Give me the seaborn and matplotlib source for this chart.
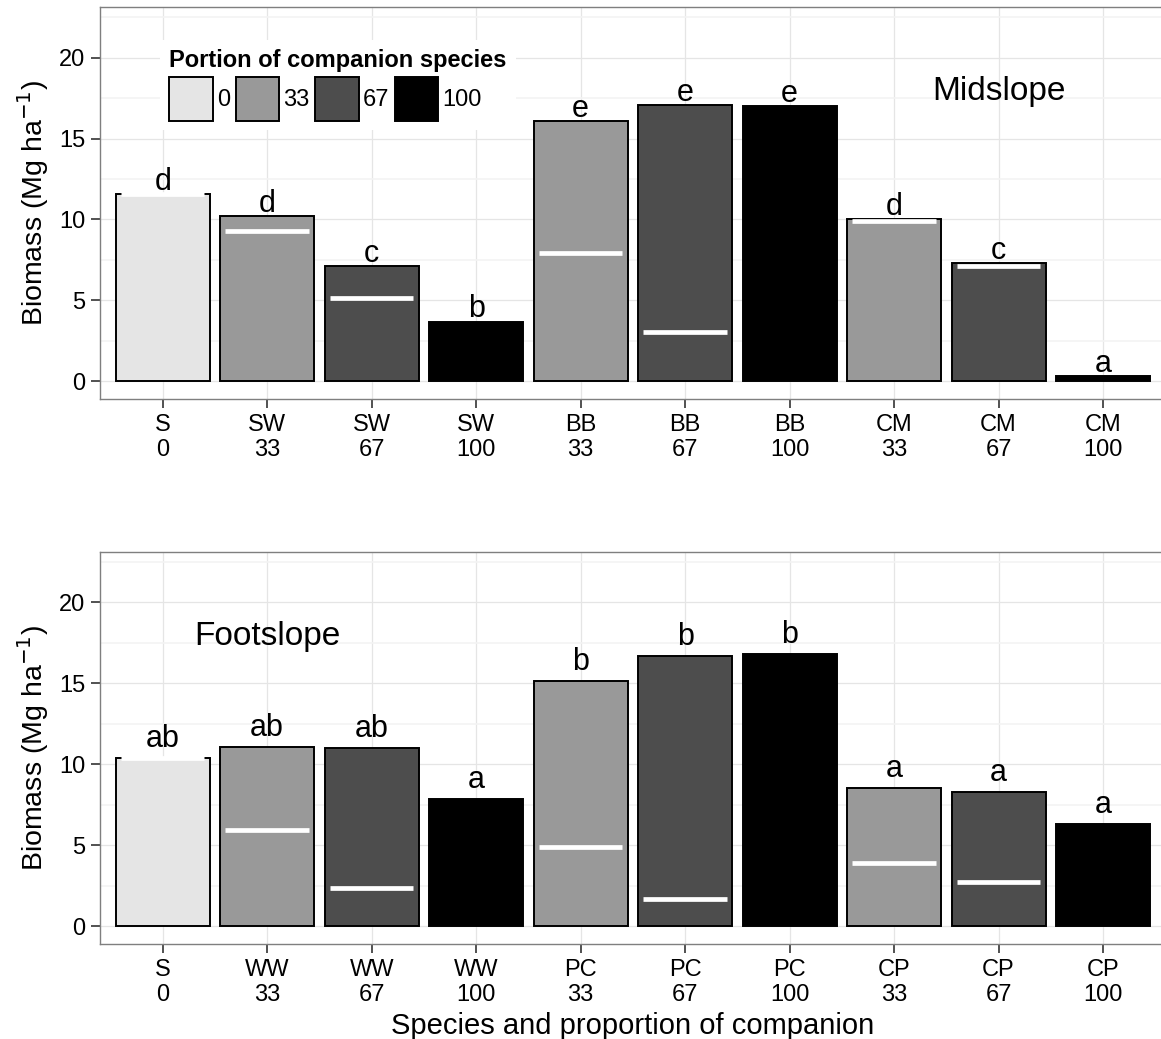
import numpy as np
import pandas as pd
from matplotlib import pyplot as plt
from matplotlib.patches import Patch
import seaborn as sns

# portion of companion species (legend groups)
portions = ['0', '33', '67', '100']
portion_colors = ['#E5E5E5', '#999999', '#4D4D4D', '#000000']

bar_portion = ['0', '33', '67', '100', '33', '67', '100', '33', '67', '100']

# midslope panel
mid_species = ['S', 'SW', 'SW', 'SW', 'BB', 'BB', 'BB', 'CM', 'CM', 'CM']
mid_biomass = [11.6, 10.2, 7.1, 3.7, 16.1, 17.07, 17.0, 10.02, 7.33, 0.35]
mid_main = [11.6, 9.26, 5.13, np.nan, 7.93, 3.06, np.nan, 9.88, 7.15, np.nan]
mid_letters = ['d', 'd', 'c', 'b', 'e', 'e', 'e', 'd', 'c', 'a']

# footslope panel
foot_species = ['S', 'WW', 'WW', 'WW', 'PC', 'PC', 'PC', 'CP', 'CP', 'CP']
foot_biomass = [10.4, 11.06, 10.98, 7.87, 15.13, 16.7, 16.8, 8.53, 8.32, 6.33]
foot_main = [10.4, 5.96, 2.35, np.nan, 4.88, 1.7, np.nan, 3.88, 2.72, np.nan]
foot_letters = ['ab', 'ab', 'ab', 'a', 'b', 'b', 'b', 'a', 'a', 'a']

sns.set_style("white")
plt.rcParams['font.family'] = ['Liberation Sans', 'DejaVu Sans']
plt.rcParams['text.color'] = 'black'
plt.rcParams['axes.labelcolor'] = 'black'

palette = dict(zip(portions, portion_colors))


def draw_panel(ax, species, biomass, main, letters, letter_off, site, site_x):
    labels = [f"{s}\n{p}" for s, p in zip(species, bar_portion)]
    df = pd.DataFrame({"label": labels, "portion": bar_portion, "biomass": biomass})
    sns.barplot(data=df, x="label", y="biomass", hue="portion", order=labels,
                hue_order=portions, palette=palette, dodge=False, width=0.9,
                saturation=1, edgecolor='black', linewidth=1.4, legend=False, ax=ax)
    pos = np.arange(len(labels))
    ax.hlines(main, pos - 0.4, pos + 0.4, color='white', linewidth=3.4, zorder=5)
    for x, v, t in zip(pos, biomass, letters):
        ax.text(x, v + letter_off, t, ha='center', va='baseline', fontsize=22, zorder=6)
    ax.text(site_x, 17.9, site, ha='center', va='center', fontsize=24)

    ax.set_xlim(-0.6, len(labels) - 0.4)
    ax.set_ylim(-1.1, 23.1)
    ax.set_yticks([0, 5, 10, 15, 20])
    ax.set_yticks(np.arange(2.5, 23, 5), minor=True)
    ax.set_axisbelow(True)
    ax.grid(which='major', color='#E5E5E5', linewidth=0.9)
    ax.grid(which='minor', axis='y', color='#F3F3F3', linewidth=1.2)
    for sp in ax.spines.values():
        sp.set_visible(True)
        sp.set_color('#7F7F7F')
        sp.set_linewidth(1.0)
    ax.tick_params(axis='both', which='major', direction='out', length=6.5, width=1.2,
                   color='#333333', labelsize=17, labelcolor='black', pad=4,
                   bottom=True, left=True)
    ax.tick_params(which='minor', length=0)
    ax.set_ylabel(r"Biomass (Mg ha$^{-1}$)", fontsize=20.5, labelpad=6)
    ax.set_xlabel("")


fig = plt.figure(figsize=(11.61, 10.39), dpi=100)
ax1 = fig.add_axes([100 / 1161, 1 - 399.3 / 1039, 1065.7 / 1161, 392.0 / 1039])
ax2 = fig.add_axes([100 / 1161, 1 - 944 / 1039, 1065.7 / 1161, 391.7 / 1039])

draw_panel(ax1, mid_species, mid_biomass, mid_main, mid_letters, 0.25, "Midslope", 8)
draw_panel(ax2, foot_species, foot_biomass, foot_main, foot_letters, 0.68, "Footslope", 1)
ax2.set_xlabel("Species and proportion of companion", fontsize=21, labelpad=4)

handles = [Patch(facecolor=c, edgecolor='black', linewidth=1.4) for c in portion_colors]
leg = ax1.legend(handles, portions, ncol=4, title="Portion of companion species",
                 title_fontproperties={'weight': 'bold', 'size': 17}, fontsize=17,
                 handlelength=1.85, handleheight=2.45, handletextpad=0.15,
                 columnspacing=0.25, borderpad=0.4, labelspacing=0.2, alignment='left',
                 frameon=True, fancybox=False, facecolor='white', edgecolor='none',
                 framealpha=1, loc='upper left',
                 bbox_to_anchor=(160 / 1161, 1 - 40 / 1039),
                 bbox_transform=fig.transFigure, borderaxespad=0)
leg.set_zorder(10)

fig.savefig("out.png", dpi=100)
